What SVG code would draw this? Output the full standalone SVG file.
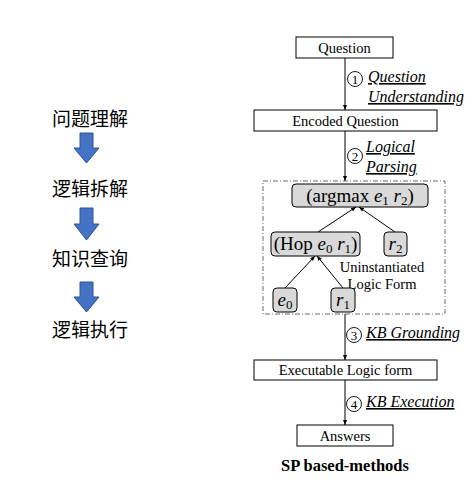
<svg xmlns="http://www.w3.org/2000/svg" width="474" height="504" viewBox="0 0 474 504">
<style>
.t{font-family:"Liberation Serif","Times New Roman",serif;font-size:14.5px;fill:#000}
.it{font-family:"Liberation Serif","Times New Roman",serif;font-size:16px;font-style:italic;text-decoration:underline;fill:#000}
.cn{font-family:"Noto Sans CJK SC","Noto Sans",sans-serif;font-size:19px;fill:#000}
.m{font-family:"Liberation Serif","Times New Roman",serif;font-size:19px;fill:#000}
.box{fill:#fff;stroke:#000;stroke-width:1}
.gb{fill:#d9d9d9;stroke:#000;stroke-width:1}
.ln{stroke:#000;stroke-width:1;fill:none}
.ba{fill:#4472c4;stroke:#2f528f;stroke-width:1}
.circ{fill:none;stroke:#000;stroke-width:0.9}
.cd{font-family:"Liberation Serif","Times New Roman",serif;font-size:13px;fill:#000}
</style>
<defs>
<marker id="ah" viewBox="0 0 10 10" refX="10" refY="5" markerWidth="5" markerHeight="5" orient="auto"><path d="M0,1 L10,5 L0,9 z" fill="#000"/></marker>
</defs>
<rect width="474" height="504" fill="#fff"/>

<g id="left">
<text class="cn" x="90" y="126" text-anchor="middle">问题理解</text>
<path class="ba" d="M80,133 H93 V148 H99 L86.5,163 L74,148 H80 Z"/>
<text class="cn" x="90" y="196" text-anchor="middle">逻辑拆解</text>
<path class="ba" d="M80,208 H93 V224 H99 L86.5,240 L74,224 H80 Z"/>
<text class="cn" x="90" y="266" text-anchor="middle">知识查询</text>
<path class="ba" d="M80,282 H93 V297 H99 L86.5,312 L74,297 H80 Z"/>
<text class="cn" x="90" y="337" text-anchor="middle">逻辑执行</text>
</g>

<g id="connectors">
<line class="ln" x1="345" y1="58" x2="345" y2="110" marker-end="url(#ah)"/>
<line class="ln" x1="345" y1="131" x2="345" y2="181" marker-end="url(#ah)"/>
<line class="ln" x1="345" y1="314" x2="345" y2="360" marker-end="url(#ah)"/>
<line class="ln" x1="345" y1="380" x2="345" y2="425" marker-end="url(#ah)"/>
<line class="ln" x1="285" y1="288" x2="315" y2="256" marker-end="url(#ah)"/>
<line class="ln" x1="343" y1="288" x2="317" y2="256" marker-end="url(#ah)"/>
<line class="ln" x1="318" y1="232" x2="356" y2="207" marker-end="url(#ah)"/>
<line class="ln" x1="395" y1="232" x2="359" y2="207" marker-end="url(#ah)"/>
</g>

<g id="labels">
<circle class="circ" cx="355" cy="79" r="7.5"/><text class="cd" x="355" y="83.5" text-anchor="middle">1</text>
<text class="it" x="368" y="82">Question</text>
<text class="it" x="368" y="102">Understanding</text>
<circle class="circ" cx="355" cy="156" r="7.5"/><text class="cd" x="355" y="160.5" text-anchor="middle">2</text>
<text class="it" x="366" y="152">Logical</text>
<text class="it" x="366" y="172">Parsing</text>
<circle class="circ" cx="354" cy="335" r="7.5"/><text class="cd" x="354" y="339.5" text-anchor="middle">3</text>
<text class="it" x="366" y="338">KB Grounding</text>
<circle class="circ" cx="354" cy="404" r="7.5"/><text class="cd" x="354" y="408.5" text-anchor="middle">4</text>
<text class="it" x="366" y="407">KB Execution</text>
<text class="t" x="382" y="272" text-anchor="middle" font-size="14">Uninstantiated</text>
<text class="t" x="382" y="289" text-anchor="middle" font-size="14">Logic Form</text>
<text x="345" y="471" text-anchor="middle" font-family="Liberation Serif, serif" font-size="16.5" font-weight="bold">SP based-methods</text>
</g>

<g id="n-question"><rect class="box" x="296" y="37" width="97" height="21"/><text class="t" x="344.5" y="52.5" text-anchor="middle">Question</text></g>
<g id="n-encoded"><rect class="box" x="254" y="110" width="183" height="21"/><text class="t" x="345.5" y="125.5" text-anchor="middle">Encoded Question</text></g>
<g id="n-frame"><rect x="263" y="181" width="182" height="133" fill="none" stroke="#444" stroke-width="0.8" stroke-dasharray="5,2,1,2"/></g>
<g id="n-argmax"><rect class="gb" x="292" y="184" width="136" height="23" rx="4"/><text class="m" x="360" y="202" text-anchor="middle">(argmax <tspan font-style="italic">e</tspan><tspan font-size="13" dy="3">1</tspan><tspan dy="-3"> </tspan><tspan font-style="italic">r</tspan><tspan font-size="13" dy="3">2</tspan><tspan dy="-3">)</tspan></text></g>
<g id="n-hop"><rect class="gb" x="271" y="232" width="89" height="24" rx="4"/><text class="m" x="315.5" y="250" text-anchor="middle">(Hop <tspan font-style="italic">e</tspan><tspan font-size="13" dy="3">0</tspan><tspan dy="-3"> </tspan><tspan font-style="italic">r</tspan><tspan font-size="13" dy="3">1</tspan><tspan dy="-3">)</tspan></text></g>
<g id="n-r2"><rect class="gb" x="384" y="232" width="23" height="24" rx="4"/><text class="m" x="395.5" y="250" text-anchor="middle"><tspan font-style="italic">r</tspan><tspan font-size="13" dy="3">2</tspan></text></g>
<g id="n-e0"><rect class="gb" x="273" y="288" width="24" height="24" rx="4"/><text class="m" x="285" y="306" text-anchor="middle"><tspan font-style="italic">e</tspan><tspan font-size="13" dy="3">0</tspan></text></g>
<g id="n-r1"><rect class="gb" x="331" y="288" width="24" height="24" rx="4"/><text class="m" x="343" y="306" text-anchor="middle"><tspan font-style="italic">r</tspan><tspan font-size="13" dy="3">1</tspan></text></g>
<g id="n-exec"><rect class="box" x="254" y="360" width="183" height="20"/><text class="t" x="345.5" y="375" text-anchor="middle">Executable Logic form</text></g>
<g id="n-answers"><rect class="box" x="297" y="425" width="96" height="21"/><text class="t" x="345" y="440.5" text-anchor="middle">Answers</text></g>
</svg>
